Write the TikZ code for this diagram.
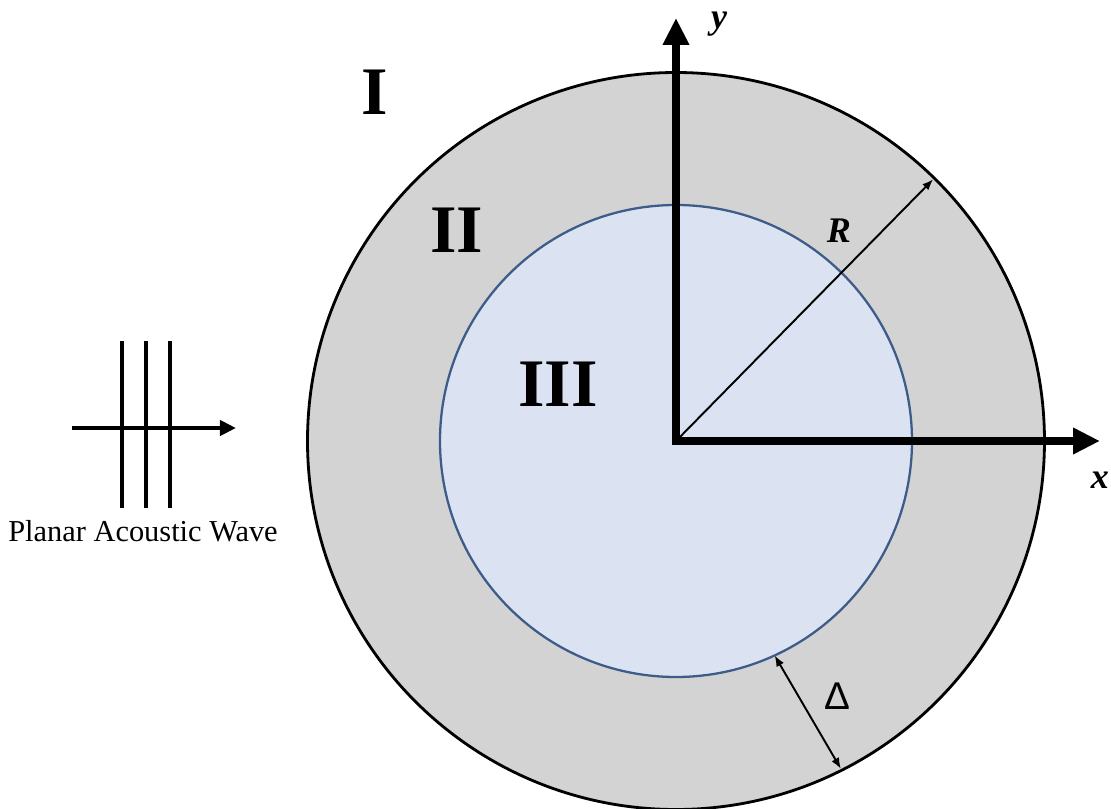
\documentclass[tikz,border=0pt]{standalone}
\usepackage{fontspec}
\setmainfont{Liberation Serif}
\newfontfamily\deltafont{Liberation Sans}
\usetikzlibrary{arrows.meta}
\definecolor{shellgray}{RGB}{211,211,211}
\definecolor{corefill}{RGB}{219,227,242}
\definecolor{coreline}{RGB}{62,92,138}
\tikzstyle{axisarr}=[line width=4.5pt, line join=miter,
  {Triangle[length=0.54cm,width=0.5cm]}-{Triangle[length=0.54cm,width=0.5cm]}]
\tikzstyle{dimarr}=[line width=1.1pt, -{Latex[length=0.22cm,width=0.17cm]}]
\tikzstyle{regionlab}=[inner sep=0pt, font=\fontsize{38.7}{40}\selectfont\bfseries]
\tikzstyle{varlab}=[inner sep=0pt, font=\fontsize{20.5}{24}\selectfont\bfseries\itshape]

\begin{document}
\begin{tikzpicture}
    \useasboundingbox (-13.52,-7.34) rectangle (8.70,8.82);
    \coordinate (O) at (0,0);
    % shell and core
    \fill[shellgray] (O) circle (7.37);
    \draw[line width=1.6pt] (O) circle (7.37);
    \draw[coreline, fill=corefill, line width=1.3pt] (O) circle (4.72);
    % dimensions
    \coordinate (rtip) at (45.5:7.34);
    \draw[dimarr] (O) -- (rtip);
    \coordinate (din) at (-65.3:4.72);
    \coordinate (dout) at (-63.3:7.34);
    \draw[dimarr, {Latex[length=0.22cm,width=0.17cm]}-{Latex[length=0.22cm,width=0.17cm]}] (din) -- (dout);
    % axes
    \coordinate (ytip) at (0,8.46);
    \coordinate (xtip) at (8.48,0);
    \draw[axisarr] (ytip) -- (O) -- (xtip);
    \node[varlab] (ylab) at (0.86,8.34) {y};
    \node[varlab] (xlab) at (8.48,-0.78) {x};
    \node[varlab] (rlab) at (3.26,4.20) {R};
    \node[inner sep=0pt, font=\fontsize{22}{26}\selectfont\deltafont] (dlab) at (3.22,-5.10) {Δ};
    % regions
    \node[regionlab] (r1) at (-6.02,6.98) {I};
    \node[regionlab] (r2) at (-4.38,4.22) {II};
    \node[regionlab] (r3) at (-2.36,1.14) {III};
    % incoming wave
    \coordinate (wstart) at (-12.08,0.26);
    \coordinate (wend) at (-8.80,0.26);
    \draw[line width=2.3pt, -{Triangle[length=0.32cm,width=0.3cm]}] (wstart) -- (wend);
    \coordinate (f1t) at (-11.08,2.00); \coordinate (f1b) at (-11.08,-1.34);
    \coordinate (f2t) at (-10.60,2.00); \coordinate (f2b) at (-10.60,-1.34);
    \coordinate (f3t) at (-10.12,2.00); \coordinate (f3b) at (-10.12,-1.34);
    \draw[line width=1.9pt] (f1t) -- (f1b);
    \draw[line width=1.9pt] (f2t) -- (f2b);
    \draw[line width=1.9pt] (f3t) -- (f3b);
    \node[inner sep=0pt, font=\fontsize{17.3}{20}\selectfont] (wavelab) at (-10.66,-1.80) {Planar Acoustic Wave};
  \end{tikzpicture}
\end{document}
